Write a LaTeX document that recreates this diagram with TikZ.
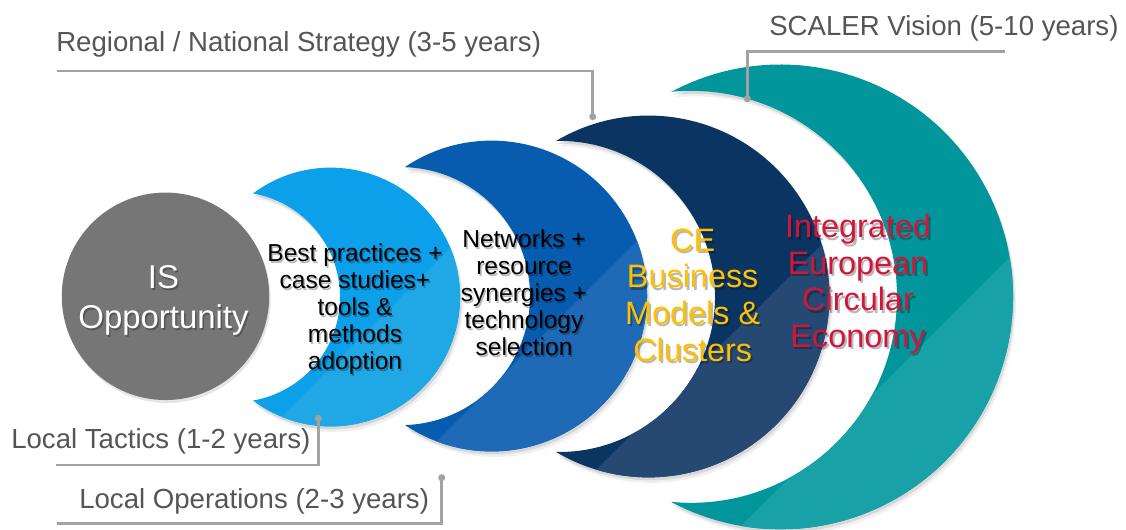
\documentclass[tikz,border=0pt]{standalone}
\usepackage{fontspec}
\setmainfont{Liberation Sans}
\definecolor{labelgray}{RGB}{85,85,85}
\definecolor{leadgray}{RGB}{162,162,162}
\definecolor{circgray}{RGB}{118,118,118}
\definecolor{cAbase}{RGB}{12,160,234}
\definecolor{cAlight}{RGB}{32,168,230}
\definecolor{cBbase}{RGB}{7,92,176}
\definecolor{cBlight}{RGB}{30,106,182}
\definecolor{cCbase}{RGB}{10,52,98}
\definecolor{cClight}{RGB}{37,73,114}
\definecolor{cDbase}{RGB}{0,150,156}
\definecolor{cDlight}{RGB}{24,161,167}
\definecolor{ceyellow}{RGB}{255,192,0}
\definecolor{cered}{RGB}{210,22,58}
% crescent path: tip x, top tip y, outer angle, outer radius, inner angle, inner radius
\newcommand{\crespath}[6]{(#1,#2) arc[start angle=-#3, end angle=#3, radius=#4] arc[start angle=#5, end angle=-#5, radius=#6] -- cycle}
\newcommand{\crescent}[9]{%
  \fill[black, opacity=0.10, shift={(1.5,3)}] \crespath{#1}{#2}{#3}{#4}{#5}{#6};
  \fill[black, opacity=0.06, shift={(3,5.5)}] \crespath{#1}{#2}{#3}{#4}{#5}{#6};
  \begin{scope}
    \clip \crespath{#1}{#2}{#3}{#4}{#5}{#6};
    \fill[#7] (0,0) rectangle (1126,529);
    \fill[#8] (#9-700,700) -- (#9+700,-700) -- (#9+1400,0) -- cycle;
  \end{scope}}
\begin{document}
\begin{tikzpicture}[x=0.75pt,y=-0.75pt,
  lbl/.style={font=\fontsize{20.7pt}{24pt}\selectfont, text=labelgray, inner sep=0pt},
  leader/.style={draw=leadgray, line width=2.1pt},
  dot/.style={circle, fill=leadgray, inner sep=0pt, minimum size=5.3pt},
  small/.style={font=\fontsize{18.4pt}{20.2pt}\selectfont, align=center, inner sep=0pt},
  big/.style={font=\fontsize{24.3pt}{27.4pt}\selectfont, align=center, inner sep=0pt},
  huge/.style={font=\fontsize{24.7pt}{30pt}\selectfont, align=center, inner sep=0pt},
  shade/.style={text=black, text opacity=0.28}]
\useasboundingbox (0,0) rectangle (1126,529);

% crescents
\crescent{671}{92}{118.14}{232.4}{95.57}{206.0}{cDbase}{cDlight}{1267}
\crescent{556}{141}{120.75}{180.9}{91.29}{155.54}{cCbase}{cClight}{1066}
\crescent{405}{167}{123.87}{155.4}{88.22}{129.0}{cBbase}{cBlight}{878}
\crescent{253}{193.5}{126.86}{129.4}{80.08}{105.1}{cAbase}{cAlight}{698}

% grey circle
\fill[black, opacity=0.10] (167,299.3) circle (103.7);
\node[circle, fill=circgray, minimum size=155.6pt, inner sep=0pt] (is) at (165.5,296.3) {};

% texts with soft shadows
\node[huge, shade] (ists) at (165,302) {IS\\Opportunity};
\node[huge, text=white] (ist) at (163.5,300.1) {IS\\Opportunity};

\node[small, shade] (t1s) at (356.5,311) {Best practices +\\case studies+\\tools \&\\methods\\adoption};
\node[small, text=black] (t1) at (355,309) {Best practices +\\case studies+\\tools \&\\methods\\adoption};

\node[small, shade] (t2s) at (525.5,295) {Networks +\\resource\\synergies +\\technology\\selection};
\node[small, text=black] (t2) at (524,293) {Networks +\\resource\\synergies +\\technology\\selection};

\node[big, shade] (t3s) at (694.5,297.5) {CE\\Business\\Models \&\\Clusters};
\node[big, text=ceyellow] (t3) at (692.7,295.1) {CE\\Business\\Models \&\\Clusters};

\node[big, shade] (t4s) at (860,286.5) {Integrated\\European\\Circular\\Economy};
\node[big, text=cered] (t4) at (858,284) {Integrated\\European\\Circular\\Economy};

% labels and leader lines
\node[lbl, anchor=base west] (reg) at (56,51.7) {Regional / National Strategy (3-5 years)};
\coordinate (reg0) at (56.7,71);
\coordinate (reg1) at (592.7,71);
\node[dot] (regd) at (592.7,116.7) {};
\draw[leader] (reg0) -- (reg1) -- (regd.center);

\node[lbl, anchor=base west] (sca) at (769,35) {SCALER Vision (5-10 years)};
\coordinate (sca0) at (1005,51.7);
\coordinate (sca1) at (747.3,51.7);
\node[dot] (scad) at (747.3,98.7) {};
\draw[leader] (sca0) -- (sca1) -- (scad.center);

\node[lbl, anchor=base west] (tac) at (11,448) {Local Tactics (1-2 years)};
\coordinate (tac0) at (56,465);
\coordinate (tac1) at (318.3,465);
\node[dot] (tacd) at (318.3,418.3) {};
\draw[leader] (tac0) -- (tac1) -- (tacd.center);

\node[lbl, anchor=base west] (ops) at (79,508) {Local Operations (2-3 years)};
\coordinate (ops0) at (57,523.3);
\coordinate (ops1) at (441.7,523.3);
\node[dot] (opsd) at (441.7,477.7) {};
\draw[leader] (ops0) -- (ops1) -- (opsd.center);
\end{tikzpicture}
\end{document}
